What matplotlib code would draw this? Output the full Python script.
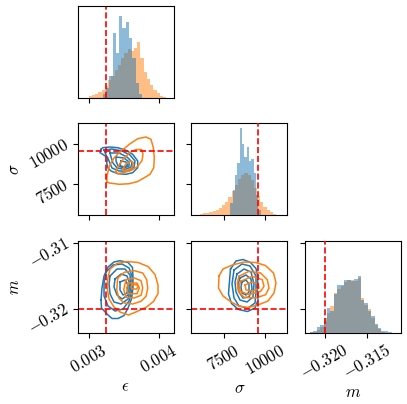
import numpy as np
import matplotlib
matplotlib.use("Agg")
import matplotlib.pyplot as plt

plt.rcParams['mathtext.fontset'] = 'cm'
plt.rcParams['font.family'] = ['DejaVu Serif']

BLUE = '#1f77b4'
ORANGE = '#ff7f0e'

# ---- true values (red dashed lines) ----
TRUE_EPS = 0.00325
TRUE_SIG = 9580
TRUE_M = -0.320

# ---- axis limits / ticks ----
EPS_LIM = (0.002841, 0.004201)
SIG_LIM = (5520, 11350)
M_ROW_LIM = (-0.32359, -0.30962)
M_DIAG_LIM = (-0.32229, -0.31102)

EPS_TICKS = [0.003, 0.004]
EPS_TICKLABELS = ['$0.003$', '$0.004$']
SIG_TICKS = [7500, 10000]
SIG_TICKLABELS = ['$7500$', '$10000$']
M_TICKS = [-0.32, -0.31]
M_TICKLABELS = ['$-0.32$', '$-0.31$']
M_DIAG_TICKS = [-0.320, -0.315]
M_DIAG_TICKLABELS = ['$-0.320$', '$-0.315$']

LABEL_EPS = r'$\epsilon$'
LABEL_SIG = r'$\sigma$'
LABEL_M = r'$m$'

# ---- 1D histograms (bin range, bar heights) ----
EPS_BLUE_RANGE = (0.003198, 0.003759)
EPS_BLUE_H = [4, 10, 22, 65, 45, 82, 70, 76, 60, 40, 15, 4]
EPS_ORANGE_RANGE = (0.00300, 0.00410)
EPS_ORANGE_H = [2, 3, 4, 6, 8, 12, 18, 22, 28, 33, 40, 45, 49, 47, 50, 56, 40, 26, 19, 13, 8, 5, 2, 1]

SIG_BLUE_RANGE = (7888, 9743)
SIG_BLUE_H = [12, 25, 40, 52, 87, 71, 58, 68, 54, 56, 42, 20, 5]
SIG_ORANGE_RANGE = (6048, 10664)
SIG_ORANGE_H = [1, 2, 2, 3, 4, 5, 7, 10, 13, 18, 24, 30, 36, 40, 42, 40, 35, 27, 19, 13, 8, 5, 3, 1]

M_HIST_RANGE = (-0.321725, -0.312149)
M_BLUE_H = [1, 2, 6, 8, 15, 25, 22, 39, 48, 48, 53, 53, 52, 54, 57, 33, 30, 22, 17, 9, 5, 2, 2, 1]
M_ORANGE_H = [0.5, 1, 3, 6, 12, 20, 27, 40, 44, 47, 51, 53, 53, 52, 55, 35, 28, 24, 15, 8, 4, 1, 0, 0]
HIST_TOP = 92

# ---- 2D density contours (outer -> inner) ----
# panel (epsilon [x1e-3], sigma)
EPS_SIG_BLUE = [
    ([3.174, 3.160, 3.198, 3.269, 3.255, 3.269, 3.316, 3.411, 3.528, 3.623, 3.694, 3.694, 3.623, 3.528, 3.411, 3.292, 3.198],
     [9683, 9468, 9367, 9151, 8834, 8517, 8308, 8137, 8099, 8201, 8517, 8942, 9367, 9620, 9785, 9829, 9785]),
    ([3.217, 3.330, 3.472, 3.585, 3.656, 3.642, 3.557, 3.429, 3.330, 3.288, 3.245],
     [9639, 9702, 9576, 9322, 8942, 8562, 8308, 8308, 8498, 8942, 9322]),
    ([3.302, 3.429, 3.542, 3.613, 3.599, 3.514, 3.401, 3.344, 3.316],
     [9449, 9449, 9195, 8879, 8562, 8403, 8498, 8815, 9195]),
    ([3.387, 3.500, 3.571, 3.571, 3.500, 3.415, 3.387],
     [9195, 9132, 8879, 8625, 8498, 8625, 8942]),
    ([3.457, 3.528, 3.550, 3.500, 3.443],
     [8942, 8879, 8689, 8562, 8657]),
]
EPS_SIG_ORANGE = [
    ([3.255, 3.259, 3.292, 3.358, 3.433, 3.575, 3.694, 3.812, 3.882, 3.915, 3.929, 3.921, 3.868, 3.788, 3.694, 3.575, 3.433, 3.292],
     [7611, 7991, 8625, 9132, 9468, 10000, 10355, 10463, 10317, 9785, 9151, 8517, 8099, 7884, 7643, 7503, 7465, 7548]),
    ([3.380, 3.429, 3.500, 3.585, 3.670, 3.748, 3.769, 3.755, 3.691, 3.599, 3.500, 3.415],
     [8245, 8689, 9132, 9481, 9671, 9671, 9386, 8974, 8593, 8340, 8213, 8150]),
    ([3.482, 3.528, 3.599, 3.632, 3.613, 3.552, 3.490],
     [8416, 8771, 8942, 8834, 8517, 8353, 8353]),
]
# panel (epsilon [x1e-3], m)
EPS_M_BLUE = [
    ([3.174, 3.188, 3.217, 3.273, 3.358, 3.443, 3.557, 3.620, 3.627, 3.627, 3.606, 3.557, 3.500, 3.415, 3.330, 3.266, 3.181],
     [-0.318655, -0.316833, -0.315010, -0.313644, -0.312885, -0.312687, -0.312960, -0.313720, -0.315162, -0.316833, -0.318503, -0.319870, -0.321009, -0.321464, -0.321464, -0.320857, -0.319870]),
    ([3.245, 3.344, 3.472, 3.571, 3.613, 3.613, 3.571, 3.486, 3.373, 3.273, 3.217, 3.217],
     [-0.314403, -0.313340, -0.313188, -0.313796, -0.315010, -0.317136, -0.318807, -0.320022, -0.320325, -0.319566, -0.318047, -0.316073]),
    ([3.302, 3.401, 3.514, 3.585, 3.599, 3.557, 3.457, 3.358, 3.302, 3.288],
     [-0.315010, -0.313948, -0.313948, -0.314859, -0.316833, -0.318503, -0.319262, -0.318959, -0.317744, -0.316225]),
    ([3.373, 3.457, 3.542, 3.585, 3.557, 3.472, 3.401, 3.358],
     [-0.315466, -0.314707, -0.315010, -0.316225, -0.317896, -0.318503, -0.317896, -0.316681]),
    ([3.443, 3.514, 3.557, 3.542, 3.486, 3.443],
     [-0.315922, -0.315618, -0.316377, -0.317592, -0.317896, -0.317136]),
]
EPS_M_ORANGE = [
    ([3.266, 3.302, 3.401, 3.538, 3.698, 3.840, 3.939, 3.982, 3.982, 3.918, 3.819, 3.684, 3.564, 3.443, 3.358, 3.288, 3.266],
     [-0.315618, -0.313948, -0.313112, -0.312809, -0.312960, -0.313568, -0.314783, -0.316377, -0.317668, -0.318883, -0.319718, -0.320401, -0.320933, -0.320477, -0.319718, -0.318503, -0.317136]),
    ([3.411, 3.504, 3.646, 3.765, 3.822, 3.836, 3.812, 3.741, 3.623, 3.504, 3.425, 3.397],
     [-0.315314, -0.314449, -0.314206, -0.314555, -0.315572, -0.316833, -0.318093, -0.318852, -0.319262, -0.319110, -0.318351, -0.317091]),
    ([3.528, 3.646, 3.741, 3.765, 3.741, 3.646, 3.528, 3.496],
     [-0.315572, -0.315314, -0.315724, -0.316833, -0.317941, -0.318351, -0.318245, -0.317091]),
    ([3.561, 3.684, 3.717, 3.684, 3.561, 3.538],
     [-0.316073, -0.316073, -0.316833, -0.317698, -0.317698, -0.316833]),
    ([3.613, 3.680, 3.698, 3.680, 3.613, 3.599],
     [-0.316332, -0.316332, -0.316635, -0.316985, -0.316985, -0.316635]),
]
# panel (sigma, m)
SIG_M_BLUE = [
    ([7901, 8235, 8660, 9115, 9449, 9571, 9510, 9571, 9389, 8933, 8386, 7961, 7779, 7840],
     [-0.313948, -0.312733, -0.312505, -0.312960, -0.313872, -0.315314, -0.316833, -0.318655, -0.319870, -0.320401, -0.320097, -0.319186, -0.317744, -0.315770]),
    ([8113, 8599, 9085, 9449, 9449, 9389, 8963, 8417, 8113, 7992],
     [-0.314099, -0.313188, -0.313492, -0.315010, -0.317440, -0.319110, -0.319870, -0.319566, -0.318351, -0.316225]),
    ([8295, 8720, 9146, 9328, 9267, 8903, 8478, 8235, 8174],
     [-0.314707, -0.313948, -0.314403, -0.316225, -0.318199, -0.318959, -0.318655, -0.317440, -0.315922]),
    ([8478, 8842, 9146, 9206, 9024, 8660, 8417, 8356],
     [-0.315314, -0.314859, -0.315466, -0.316985, -0.318199, -0.318351, -0.317440, -0.316225]),
    ([8599, 8842, 9024, 9024, 8842, 8599, 8538],
     [-0.315922, -0.315618, -0.316225, -0.317440, -0.317896, -0.317592, -0.316681]),
]
SIG_M_ORANGE = [
    ([7202, 7445, 8022, 8720, 9419, 10026, 10512, 10664, 10542, 10178, 9571, 8963, 8386, 7901, 7445, 7172],
     [-0.315010, -0.313948, -0.313340, -0.312885, -0.312960, -0.313416, -0.314555, -0.316073, -0.317592, -0.318807, -0.319414, -0.319794, -0.319566, -0.318883, -0.318047, -0.316833]),
    ([8417, 9024, 9735, 10135, 10239, 10038, 9431, 8720, 8374, 8314],
     [-0.315056, -0.314297, -0.314555, -0.315572, -0.316833, -0.317850, -0.318351, -0.318245, -0.317334, -0.316073]),
    ([8520, 9225, 9832, 9935, 9735, 9024, 8520, 8417],
     [-0.315815, -0.315056, -0.315572, -0.316575, -0.317334, -0.317850, -0.317334, -0.316575]),
    ([8781, 9206, 9571, 9631, 9267, 8842],
     [-0.316377, -0.315922, -0.316225, -0.316833, -0.317288, -0.317136]),
]

# ---------------------------------------------------------------
W, H = 407, 404
fig = plt.figure(figsize=(W / 100, H / 100), dpi=100)

COL_LEFT = [77.5, 191.3, 305.2]
ROW_TOP = [5.5, 123.0, 240.5]
AW, AH = 96, 92


def make_ax(r, c):
    return fig.add_axes([COL_LEFT[c] / W, 1 - (ROW_TOP[r] + AH) / H, AW / W, AH / H])


FS = 12
LW_C = 1.1


def style(ax):
    ax.tick_params(direction='out', length=3.5, width=0.8, labelsize=FS)
    for s in ax.spines.values():
        s.set_linewidth(0.8)


def hist(ax, rng, h, color):
    edges = np.linspace(rng[0], rng[1], len(h) + 1)
    ax.stairs(h, edges, fill=True, color=color, alpha=0.5, linewidth=0)


def contours(ax, levels, color, xscale=1.0):
    for xs, ys in levels:
        x = np.array(xs, dtype=float) * xscale
        y = np.array(ys, dtype=float)
        ax.plot(np.append(x, x[0]), np.append(y, y[0]), color=color, lw=LW_C)


def rotate_labels(ax):
    for t in ax.get_xticklabels():
        t.set_rotation(30)
    for t in ax.get_yticklabels():
        t.set_rotation(30)
        t.set_rotation_mode('anchor')
        t.set_ha('right')
        t.set_va('center')


# Row 0: epsilon histogram
ax00 = make_ax(0, 0)
style(ax00)
hist(ax00, EPS_ORANGE_RANGE, EPS_ORANGE_H, ORANGE)
hist(ax00, EPS_BLUE_RANGE, EPS_BLUE_H, BLUE)
ax00.axvline(TRUE_EPS, color='red', ls='--', lw=1.2)
ax00.set_xlim(EPS_LIM)
ax00.set_ylim(0, HIST_TOP)
ax00.set_xticks(EPS_TICKS)
ax00.tick_params(labelbottom=False, left=False, labelleft=False)

# Row 1: (eps, sigma) and sigma histogram
ax10 = make_ax(1, 0)
style(ax10)
contours(ax10, EPS_SIG_BLUE, BLUE, 1e-3)
contours(ax10, EPS_SIG_ORANGE, ORANGE, 1e-3)
ax10.axvline(TRUE_EPS, color='red', ls='--', lw=1.2)
ax10.axhline(TRUE_SIG, color='red', ls='--', lw=1.2)
ax10.set_xlim(EPS_LIM)
ax10.set_ylim(SIG_LIM)
ax10.set_xticks(EPS_TICKS)
ax10.tick_params(labelbottom=False)
ax10.set_yticks(SIG_TICKS, SIG_TICKLABELS)
ax10.set_ylabel(LABEL_SIG, fontsize=FS, labelpad=2)
rotate_labels(ax10)

ax11 = make_ax(1, 1)
style(ax11)
ax11.set_xlim(SIG_LIM)
ax11.set_ylim(SIG_LIM)
ax11.set_xticks(SIG_TICKS)
ax11.set_yticks(SIG_TICKS)
ax11.tick_params(labelbottom=False, labelleft=False)
t11 = ax11.twinx()
t11.set_axis_off()
hist(t11, SIG_ORANGE_RANGE, SIG_ORANGE_H, ORANGE)
hist(t11, SIG_BLUE_RANGE, SIG_BLUE_H, BLUE)
t11.axvline(TRUE_SIG, color='red', ls='--', lw=1.2)
t11.set_ylim(0, HIST_TOP)
t11.set_xlim(SIG_LIM)

# Row 2: (eps, m), (sigma, m), m histogram
ax20 = make_ax(2, 0)
style(ax20)
contours(ax20, EPS_M_BLUE, BLUE, 1e-3)
contours(ax20, EPS_M_ORANGE, ORANGE, 1e-3)
ax20.axvline(TRUE_EPS, color='red', ls='--', lw=1.2)
ax20.axhline(TRUE_M, color='red', ls='--', lw=1.2)
ax20.set_xlim(EPS_LIM)
ax20.set_ylim(M_ROW_LIM)
ax20.set_xticks(EPS_TICKS, EPS_TICKLABELS)
ax20.set_yticks(M_TICKS, M_TICKLABELS)
ax20.set_xlabel(LABEL_EPS, fontsize=FS, labelpad=1)
ax20.set_ylabel(LABEL_M, fontsize=FS, labelpad=2)
rotate_labels(ax20)

ax21 = make_ax(2, 1)
style(ax21)
contours(ax21, SIG_M_BLUE, BLUE)
contours(ax21, SIG_M_ORANGE, ORANGE)
ax21.axvline(TRUE_SIG, color='red', ls='--', lw=1.2)
ax21.axhline(TRUE_M, color='red', ls='--', lw=1.2)
ax21.set_xlim(SIG_LIM)
ax21.set_ylim(M_ROW_LIM)
ax21.set_xticks(SIG_TICKS, SIG_TICKLABELS)
ax21.set_yticks(M_TICKS)
ax21.tick_params(labelleft=False)
ax21.set_xlabel(LABEL_SIG, fontsize=FS, labelpad=1)
rotate_labels(ax21)

ax22 = make_ax(2, 2)
style(ax22)
ax22.set_xlim(M_DIAG_LIM)
ax22.set_ylim(M_ROW_LIM)
ax22.set_xticks(M_DIAG_TICKS, M_DIAG_TICKLABELS)
ax22.set_yticks(M_TICKS)
ax22.tick_params(labelleft=False)
ax22.set_xlabel(LABEL_M, fontsize=FS, labelpad=1)
rotate_labels(ax22)
t22 = ax22.twinx()
t22.set_axis_off()
hist(t22, M_HIST_RANGE, M_ORANGE_H, ORANGE)
hist(t22, M_HIST_RANGE, M_BLUE_H, BLUE)
t22.axvline(TRUE_M, color='red', ls='--', lw=1.2)
t22.set_ylim(0, HIST_TOP)
t22.set_xlim(M_DIAG_LIM)

fig.savefig('out.png', dpi=100)
